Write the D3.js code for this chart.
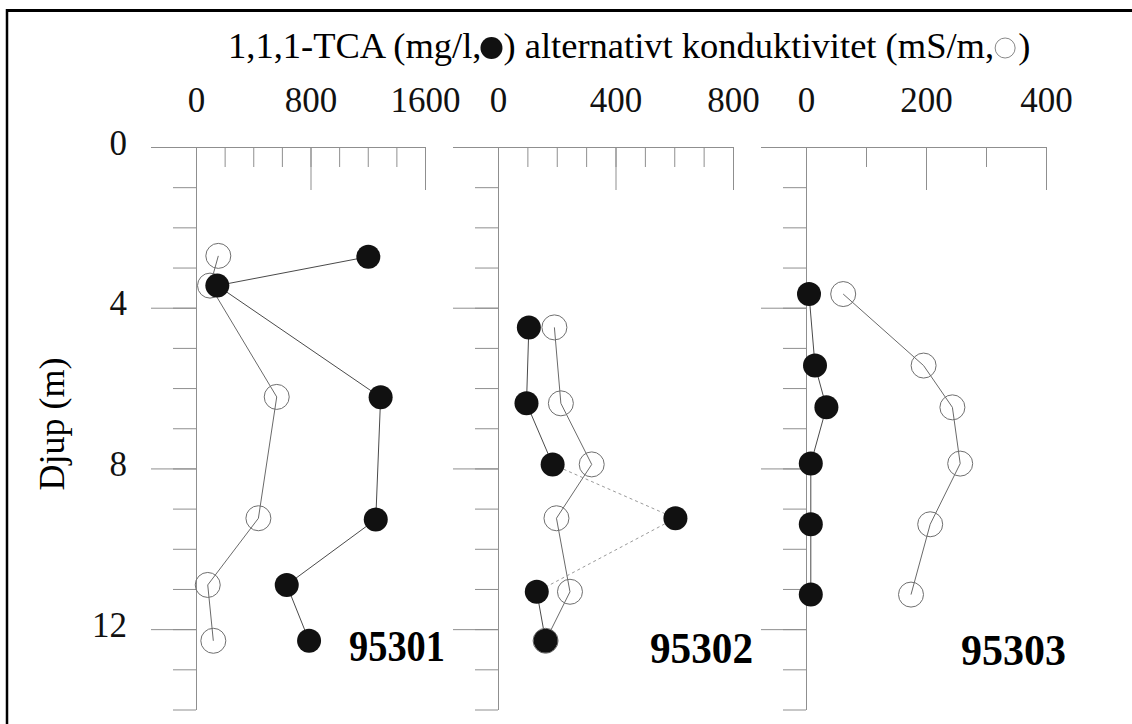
<!DOCTYPE html>
<html>
<head>
<meta charset="utf-8">
<script src="https://cdn.jsdelivr.net/npm/d3@7"></script>
<style>
  body { margin: 0; background: #fff; }
  svg { display: block; font-family: "Liberation Serif", "Times New Roman", serif; }
  .axis path, .axis line { stroke: #8f8f8f; stroke-width: 1; }
  .axis text { fill: #111; font-size: 35px; font-family: "Liberation Serif", serif; }
</style>
</head>
<body>
<div id="chart"></div>
<script>
// Data______________________________________________________________
const wells = ["95301", "95302", "95303"];
const xMax = [1600, 800, 400];
const xStep = [200, 100, 100];
const xTickLabels = [[0, 800, 1600], [0, 400, 800], [0, 200, 400]];
const depthTicks = [0, 4, 8, 12];
const depthMax = 14;

// 1,1,1-TCA (filled), mg/l
const tcaDepth = [
  [2.73, 3.45, 6.23, 9.27, 10.9, 12.29],
  [4.49, 6.38, 7.9, 9.24, 11.07, 12.29],
  [3.66, 5.44, 6.48, 7.88, 9.39, 11.14]
];
const tcaValue = [
  [1204, 149, 1290, 1256, 634, 790],
  [105, 97, 186, 604, 132, 162],
  [5, 15, 34, 8, 8, 8]
];
// konduktivitet (open), mS/m
const condDepth = [
  [2.71, 3.45, 6.22, 9.24, 10.9, 12.29],
  [4.49, 6.38, 7.9, 9.24, 11.07, 12.29],
  [3.66, 5.44, 6.48, 7.88, 9.39, 11.14]
];
const condValue = [
  [156, 98, 564, 436, 82, 121],
  [192, 214, 319, 199, 245, 162],
  [62, 196, 244, 257, 207, 175]
];

// Layout__________________________________________________________
const width = 1132, height = 724;
const panelX = [[196, 425], [498, 733], [806, 1046]];
const top0 = 147, bottom0 = 709.5;
// faint dotted segments (panel index -> segment indexes of the TCA line)
const dottedTca = {1: [2, 3]};
const wellLabelWidth = [96, 103, 105];

const svg = d3.select("#chart").append("svg")
  .attr("width", width)
  .attr("height", height);

// frame (only top and left edges show)
svg.append("line").attr("x1", 6).attr("x2", width).attr("y1", 10.5).attr("y2", 10.5)
  .attr("stroke", "#000").attr("stroke-width", 3);
svg.append("line").attr("x1", 7).attr("x2", 7).attr("y1", 9).attr("y2", height)
  .attr("stroke", "#000").attr("stroke-width", 2.5);

const y = d3.scaleLinear().domain([0, depthMax]).range([top0, bottom0]);

wells.forEach((well, i) => {
  const x = d3.scaleLinear().domain([0, xMax[i]]).range(panelX[i]);
  const g = svg.append("g");

  // Axes
  const minorX = d3.range(0, xMax[i] + 1, xStep[i]);
  g.append("g").attr("class", "axis")
    .attr("transform", `translate(0,${top0})`)
    .call(d3.axisTop(x).tickValues(minorX).tickSizeInner(-20).tickSizeOuter(0).tickFormat(""));
  g.append("g").attr("class", "axis")
    .attr("transform", `translate(0,${top0})`)
    .call(d3.axisTop(x).tickValues(xTickLabels[i]).tickSizeInner(-43).tickSizeOuter(0).tickPadding(35)
      .tickFormat(d3.format("d")))
    .call(a => a.select(".domain").remove())
    .call(a => a.selectAll(".tick line").filter(d => d === 0).remove());

  const ax = panelX[i][0];
  g.append("g").attr("class", "axis")
    .attr("transform", `translate(${ax},0)`)
    .call(d3.axisLeft(y).tickValues(d3.range(0, depthMax + 1)).tickSizeInner(23).tickSizeOuter(0).tickFormat(""));
  g.append("g").attr("class", "axis")
    .attr("transform", `translate(${ax},0)`)
    .call(d3.axisLeft(y).tickValues(depthTicks).tickSizeInner(45).tickSizeOuter(0).tickPadding(24)
      .tickFormat(i === 0 ? d3.format("d") : ""))
    .call(a => a.select(".domain").remove())
    .call(a => a.selectAll(".tick text").attr("dy", "0.2em"));

  // Lines
  const tcaPts = tcaDepth[i].map((d, k) => [tcaValue[i][k], d]);
  const condPts = condDepth[i].map((d, k) => [condValue[i][k], d]);

  g.selectAll(".cond-seg").data(d3.pairs(condPts)).enter().append("line")
    .attr("x1", d => x(d[0][0])).attr("y1", d => y(d[0][1]))
    .attr("x2", d => x(d[1][0])).attr("y2", d => y(d[1][1]))
    .attr("stroke", "#6a6a6a").attr("stroke-width", 1);

  const dotted = dottedTca[i] || [];
  g.selectAll(".tca-seg").data(d3.pairs(tcaPts)).enter().append("line")
    .attr("x1", d => x(d[0][0])).attr("y1", d => y(d[0][1]))
    .attr("x2", d => x(d[1][0])).attr("y2", d => y(d[1][1]))
    .attr("stroke", (d, k) => dotted.includes(k) ? "#9a9a9a" : "#4a4a4a")
    .attr("stroke-width", 1)
    .attr("stroke-dasharray", (d, k) => dotted.includes(k) ? "3,3" : null);

  // Points
  g.selectAll(".cond").data(condPts).enter().append("circle")
    .attr("cx", d => x(d[0])).attr("cy", d => y(d[1])).attr("r", 12.5)
    .attr("fill", "none").attr("stroke", "#6f6f6f").attr("stroke-width", 1);
  g.selectAll(".tca").data(tcaPts).enter().append("circle")
    .attr("cx", d => x(d[0])).attr("cy", d => y(d[1])).attr("r", 12)
    .attr("fill", "#111");

  // Well id
  g.append("text")
    .attr("x", panelX[i][1] + 20).attr("y", 661 + i * 2)
    .attr("text-anchor", "end")
    .attr("font-size", 44).attr("font-weight", "bold")
    .attr("textLength", wellLabelWidth[i]).attr("lengthAdjust", "spacingAndGlyphs")
    .text(well);
});

// Y label
svg.append("text")
  .attr("transform", "translate(64,424) rotate(-90)")
  .attr("text-anchor", "middle")
  .attr("font-size", 36)
  .text("Djup (m)");

// Title with inline legend markers
const title = svg.append("g").attr("font-size", 36.5);
let tx = 228;
const ty = 58;
const part = (s) => {
  const t = title.append("text").attr("x", tx).attr("y", ty).text(s);
  tx += t.node().getComputedTextLength();
};
part("1,1,1-TCA (mg/l,");
title.append("circle").attr("cx", tx + 10).attr("cy", ty - 10).attr("r", 11).attr("fill", "#111");
tx += 22;
part(") alternativt konduktivitet (mS/m,");
title.append("circle").attr("cx", tx + 11).attr("cy", ty - 10).attr("r", 10)
  .attr("fill", "none").attr("stroke", "#888").attr("stroke-width", 1);
tx += 24;
part(")");
</script>
</body>
</html>
